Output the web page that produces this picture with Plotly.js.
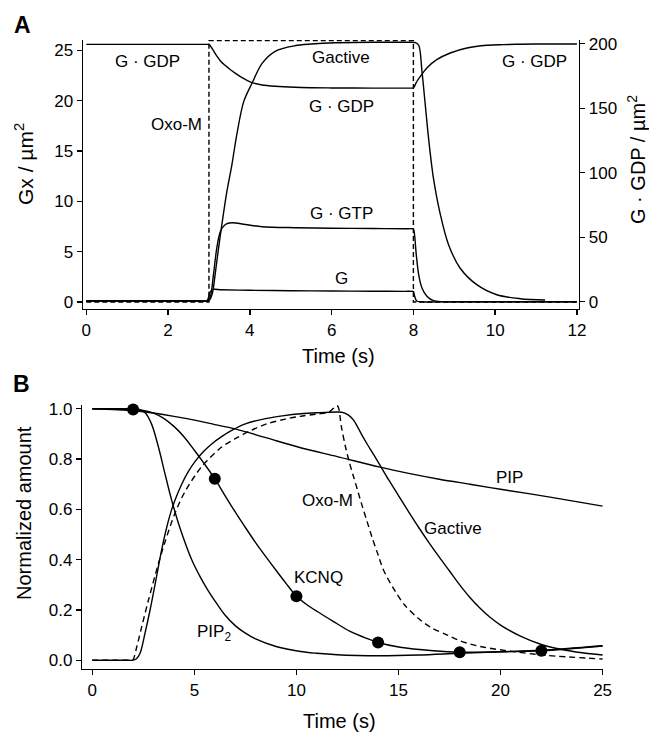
<!DOCTYPE html>
<html>
<head>
<meta charset="utf-8">
<script src="https://cdn.plot.ly/plotly-3.0.1.min.js"></script>
<style>
html,body{margin:0;padding:0;background:#fff;}
#chart{width:649px;height:733px;}
</style>
</head>
<body>
<div id="chart"></div>
<script>
// ---------- Panel A data ----------
const tA_GDP = [0, 1, 2, 2.8, 2.95, 3.0, 3.08, 3.15, 3.3, 3.48, 3.65, 3.81, 4.05, 4.3, 4.62, 5.1, 5.5, 6.0, 7.0, 7.8, 7.95, 8.0, 8.08, 8.17, 8.33, 8.57, 8.9, 9.31, 9.8, 10.2, 10.6, 11.3, 12.0];
const vA_GDP = [199.5, 199.5, 199.5, 199.5, 199.5, 199.4, 196.2, 192.5, 186, 181, 177, 173.7, 169.8, 168, 167, 166.2, 165.9, 165.7, 165.6, 165.6, 165.6, 165.7, 170.5, 174.7, 181.2, 187.6, 192.8, 196.7, 198.8, 199.3, 199.6, 199.8, 199.8];

const tA_Gactive = [0, 1, 2, 2.8, 2.95, 3.0, 3.08, 3.15, 3.23, 3.32, 3.44, 3.56, 3.68, 3.85, 4.05, 4.3, 4.62, 5.1, 5.5, 6.1, 7.0, 7.8, 7.95, 8.05, 8.13, 8.21, 8.29, 8.37, 8.49, 8.66, 8.86, 9.14, 9.55, 10.04, 10.61, 11.22];
const vA_Gactive = [0.1, 0.1, 0.1, 0.1, 0.1, 0.15, 0.8, 2.7, 5.2, 7.8, 11.0, 13.6, 16.6, 19.9, 21.7, 23.7, 24.9, 25.45, 25.62, 25.75, 25.8, 25.8, 25.8, 25.75, 25.5, 22.9, 19.6, 16.3, 12.3, 8.67, 5.69, 3.38, 1.72, 0.72, 0.33, 0.2];

const tA_GTP = [0, 1, 2, 2.8, 2.95, 3.03, 3.11, 3.19, 3.28, 3.4, 3.56, 3.89, 4.3, 5.1, 6.0, 7.0, 7.8, 7.95, 8.0, 8.03, 8.07, 8.13, 8.21, 8.33, 8.49, 8.74, 9.5, 10.5, 11.5, 12.0];
const vA_GTP = [0.1, 0.1, 0.1, 0.1, 0.1, 0.5, 2.7, 5.3, 7.0, 7.7, 7.87, 7.7, 7.48, 7.38, 7.33, 7.3, 7.28, 7.28, 7.26, 6.6, 4.7, 2.7, 1.39, 0.57, 0.13, 0.03, 0.02, 0.02, 0.02, 0.02];

const tA_G = [0, 1, 2, 2.8, 2.95, 3.03, 3.1, 3.3, 4.0, 5.0, 6.0, 7.0, 7.8, 7.95, 8.0, 8.03, 8.08, 8.2, 9.0, 10.5, 12.0];
const vA_G = [0.1, 0.1, 0.1, 0.1, 0.1, 1.0, 1.25, 1.22, 1.16, 1.12, 1.09, 1.07, 1.06, 1.06, 1.05, 0.6, 0.1, 0.02, 0.02, 0.02, 0.02];

const tA_Oxo = [0, 3.0, 3.0, 8.0, 8.0, 12.0];
const vA_Oxo = [0, 0, 25.97, 25.97, 0, 0];

const xTicksA = [0, 2, 4, 6, 8, 10, 12];
const yTicksA = [0, 5, 10, 15, 20, 25];
const y2TicksA = [0, 50, 100, 150, 200];

// ---------- Panel B data ----------
const tB_PIP = [0, 1, 2, 3, 4, 5.3, 6, 7, 8.5, 10.2, 12, 14.1, 15.5, 17, 18.5, 20, 22.5, 25];
const vB_PIP = [1.0, 0.997, 0.993, 0.983, 0.97, 0.95, 0.937, 0.92, 0.885, 0.845, 0.81, 0.768, 0.743, 0.72, 0.7, 0.68, 0.648, 0.613];

const tB_PIP2 = [0, 1, 1.8, 2.0, 2.3, 2.58, 2.9, 3.24, 3.55, 3.89, 4.3, 4.87, 5.3, 5.69, 6.1, 6.5, 7.0, 7.5, 8.0, 9.0, 10.2, 11.0, 12.0, 13.0, 14.0, 16.0, 18.0, 20.0, 22.0, 25.0];
const vB_PIP2 = [1.0, 1.0, 1.0, 1.0, 0.997, 0.985, 0.94, 0.848, 0.745, 0.636, 0.525, 0.4, 0.33, 0.275, 0.225, 0.18, 0.138, 0.108, 0.085, 0.055, 0.035, 0.028, 0.022, 0.019, 0.018, 0.021, 0.028, 0.034, 0.04, 0.058];

const tB_KCNQ = [0, 1, 2.0, 2.5, 3.0, 3.5, 4.0, 4.5, 5.0, 5.5, 6.0, 6.5, 7.0, 7.5, 8.0, 8.5, 9.0, 9.5, 10.0, 10.5, 11.0, 11.8, 12.63, 13.45, 14.0, 15.08, 16.7, 18.0, 20.0, 22.0, 25.0];
const vB_KCNQ = [1.0, 0.999, 0.997, 0.993, 0.983, 0.962, 0.93, 0.888, 0.835, 0.78, 0.722, 0.655, 0.59, 0.528, 0.468, 0.412, 0.358, 0.305, 0.255, 0.222, 0.195, 0.155, 0.115, 0.087, 0.071, 0.052, 0.038, 0.032, 0.034, 0.038, 0.057];

const tB_dots = [2, 6, 10, 14, 18, 22];
const vB_dots = [0.997, 0.722, 0.255, 0.071, 0.032, 0.038];

const tB_Gactive = [0, 1, 1.8, 1.95, 2.15, 2.34, 2.58, 2.83, 3.07, 3.4, 3.65, 3.89, 4.14, 4.38, 4.7, 5.03, 5.45, 5.85, 6.35, 6.83, 7.5, 8.55, 9.4, 10.2, 11.0, 12.0, 12.3, 12.55, 12.8, 13.05, 13.28, 13.5, 13.77, 14.1, 14.5, 15.0, 15.5, 16.0, 16.5, 17.0, 17.5, 18.0, 18.5, 19.0, 19.5, 20.0, 21.0, 22.0, 23.0, 24.0, 25.0];
const vB_Gactive = [0.0, 0.0, 0.0, 0.0, 0.005, 0.028, 0.107, 0.2, 0.3, 0.44, 0.53, 0.6, 0.655, 0.7, 0.75, 0.79, 0.83, 0.86, 0.89, 0.914, 0.94, 0.962, 0.973, 0.98, 0.984, 0.987, 0.985, 0.975, 0.955, 0.92, 0.885, 0.855, 0.82, 0.775, 0.72, 0.655, 0.59, 0.527, 0.467, 0.41, 0.355, 0.3, 0.25, 0.207, 0.17, 0.14, 0.095, 0.063, 0.043, 0.03, 0.021];

const tB_Oxo = [0, 1, 1.8, 1.95, 2.0, 2.18, 2.42, 2.75, 3.24, 3.56, 4.05, 4.54, 5.36, 6.34, 7.0, 7.8, 8.55, 9.4, 10.18, 11.0, 11.6, 12.0, 12.2, 12.4, 12.6, 12.8, 13.0, 13.2, 13.45, 13.7, 14.0, 14.26, 14.8, 15.3, 16.0, 16.6, 17.4, 18.0, 19.0, 20.6, 22.2, 25.0];
const vB_Oxo = [0, 0, 0, 0, 0.002, 0.054, 0.133, 0.239, 0.385, 0.47, 0.585, 0.67, 0.77, 0.848, 0.881, 0.915, 0.94, 0.958, 0.97, 0.979, 0.987, 1.012, 0.93, 0.85, 0.785, 0.73, 0.675, 0.62, 0.555, 0.49, 0.42, 0.36, 0.28, 0.22, 0.165, 0.13, 0.1, 0.078, 0.055, 0.035, 0.02, 0.005];

const xTicksB = [0, 5, 10, 15, 20, 25];
const yTicksB = [0, 0.2, 0.4, 0.6, 0.8, 1.0];

// ---------- helpers (pixel -> paper) ----------
const W = 649, H = 733;
const fx = p => p / W;
const fy = p => 1 - p / H;
const FONT = 'Liberation Sans, Arial, Helvetica, sans-serif';
const LW = 1.4;

function line(x, y, xa, ya, opts) {
  opts = opts || {};
  return {
    x: x, y: y, xaxis: xa, yaxis: ya, type: 'scatter', mode: 'lines',
    line: {color: '#000', width: LW, shape: opts.shape || 'spline', smoothing: 0.9, dash: opts.dash || 'solid'},
    hoverinfo: 'skip', showlegend: false
  };
}

const traces = [
  line(tA_Oxo, vA_Oxo, 'x', 'y', {shape: 'linear', dash: '5px,3px'}),
  line(tA_G, vA_G, 'x', 'y'),
  line(tA_GTP, vA_GTP, 'x', 'y'),
  line(tA_Gactive, vA_Gactive, 'x', 'y'),
  line(tA_GDP, vA_GDP, 'x', 'y2'),
  line(tB_Oxo, vB_Oxo, 'x2', 'y3', {dash: '6px,4px'}),
  line(tB_PIP, vB_PIP, 'x2', 'y3'),
  line(tB_PIP2, vB_PIP2, 'x2', 'y3'),
  line(tB_Gactive, vB_Gactive, 'x2', 'y3'),
  line(tB_KCNQ, vB_KCNQ, 'x2', 'y3'),
  {x: tB_dots, y: vB_dots, xaxis: 'x2', yaxis: 'y3', type: 'scatter', mode: 'markers',
   marker: {color: '#000', size: 12}, hoverinfo: 'skip', showlegend: false, cliponaxis: false}
];

const axisBase = {
  showline: true, linecolor: '#000', linewidth: LW,
  ticks: 'outside', ticklen: 5, tickwidth: LW, tickcolor: '#000',
  showgrid: false, zeroline: false, fixedrange: true,
  tickfont: {family: FONT, size: 17, color: '#000'}
};

// panel A frame (pixels): x 83..579, y 40..309 ; panel B: x 82.3..603, y 405..669
const layout = {
  width: W, height: H,
  margin: {l: 0, r: 0, t: 0, b: 0},
  paper_bgcolor: '#fff', plot_bgcolor: '#fff',
  showlegend: false,
  xaxis: Object.assign({}, axisBase, {domain: [fx(83), fx(579)], range: [-0.08, 12.05], tickvals: xTicksA, anchor: 'y'}),
  yaxis: Object.assign({}, axisBase, {domain: [fy(309), fy(40)], range: [-0.695, 26.02], tickvals: yTicksA, anchor: 'x'}),
  yaxis2: Object.assign({}, axisBase, {domain: [fy(309), fy(40)], range: [-5.66, 202.87], tickvals: y2TicksA, anchor: 'x', overlaying: 'y', side: 'right'}),
  xaxis2: Object.assign({}, axisBase, {domain: [fx(82.3), fx(603)], range: [-0.49, 25.02], tickvals: xTicksB, anchor: 'y3'}),
  yaxis3: Object.assign({}, axisBase, {domain: [fy(669), fy(405)], range: [-0.0345, 1.015], tickvals: yTicksB, tickformat: '.1f', anchor: 'x2'}),
  annotations: []
};

function ann(text, x, y, size, extra) {
  return Object.assign({
    text: text, xref: 'paper', yref: 'paper', x: fx(x), y: fy(y),
    xanchor: 'center', yanchor: 'middle', showarrow: false,
    font: {family: FONT, size: size, color: '#000'}
  }, extra || {});
}

layout.annotations.push(
  // panel letters
  ann('<b>A</b>', 22, 25, 23),
  ann('<b>B</b>', 21, 384, 23),
  // axis titles
  ann('Time (s)', 338, 356, 20),
  ann('Time (s)', 339, 721, 20),
  ann('Gx / µm<sup>2</sup>', 24, 164, 21, {textangle: -90}),
  ann('G · GDP / µm<sup>2</sup>', 637, 160, 20, {textangle: -90}),
  ann('Normalized amount', 24, 513, 20, {textangle: -90}),
  // panel A labels
  ann('G · GDP', 147.5, 61, 17),
  ann('Oxo-M', 176, 124, 17),
  ann('Gactive', 341.5, 57.5, 17),
  ann('G · GDP', 341.5, 106.5, 17),
  ann('G · GTP', 341, 213.5, 17),
  ann('G', 341, 278.5, 17),
  ann('G · GDP', 534.7, 61, 17),
  // panel B labels
  ann('PIP<sub>2</sub>', 214, 633, 17),
  ann('KCNQ', 318.7, 577, 17),
  ann('Oxo-M', 327, 500, 17),
  ann('Gactive', 452.5, 528, 17),
  ann('PIP', 510, 477.5, 17)
);

Plotly.newPlot('chart', traces, layout, {staticPlot: true, displayModeBar: false});
</script>
</body>
</html>
